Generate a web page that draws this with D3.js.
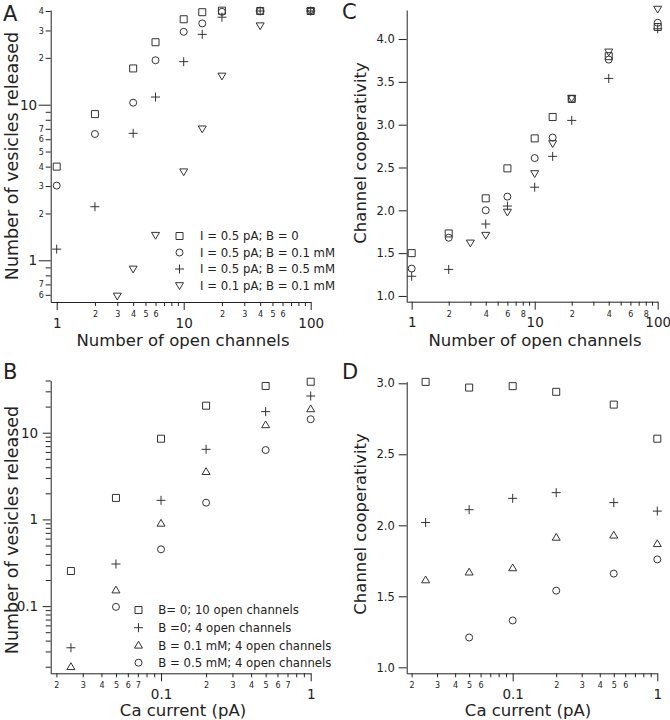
<!DOCTYPE html>
<html><head><meta charset="utf-8">
<script src="https://cdn.jsdelivr.net/npm/d3@7"></script>
<style>body{margin:0;background:#fff}</style>
</head><body>
<svg id="chart" width="670" height="720"></svg>
<script>
// ---------- data ----------
// Panel A / C : x = number of open channels
const channels = [1, 2, 4, 6, 10, 14, 20, 40, 100];
const channelsTri = [3, 4, 6, 10, 14, 20, 40, 100];
const vesA_sq   = [4.0, 8.7, 17.1, 25.2, 35.4, 39.3, 40.2, 40, 40];
const vesA_circ = [3.02, 6.48, 10.3, 19.3, 29.4, 33.3, 39.5, 40, 40];
const vesA_plus = [1.18, 2.21, 6.55, 11.2, 18.9, 28.3, 36.5, 40, 40];
const vesA_tri  = [0.59, 0.88, 1.45, 3.71, 7.0, 15.3, 32.2, 40];
const coopC_sq   = [1.50, 1.73, 2.14, 2.49, 2.84, 3.09, 3.30, 3.80, 4.14];
const coopC_circ = [1.32, 1.68, 2.00, 2.16, 2.61, 2.85, 3.30, 3.76, 4.19];
const coopC_plus = [1.23, 1.31, 1.84, 2.05, 2.27, 2.63, 3.05, 3.54, 4.12];
const coopC_tri  = [1.62, 1.71, 1.98, 2.43, 2.78, 3.31, 3.85, 4.35];
const legendAC = ["I = 0.5 pA; B = 0", "I = 0.5 pA; B = 0.1 mM", "I = 0.5 pA; B = 0.5 mM", "I = 0.1 pA; B = 0.1 mM"];

// Panel B / D : x = Ca current (pA)
const currents = [0.025, 0.05, 0.1, 0.2, 0.5, 1];
const currentsCirc = [0.05, 0.1, 0.2, 0.5, 1];
const vesB_sq   = [0.254, 1.77, 8.53, 20.5, 34.6, 38.7];
const vesB_plus = [0.0331, 0.306, 1.66, 6.43, 17.5, 26.5];
const vesB_tri  = [0.020, 0.153, 0.90, 3.55, 12.3, 18.8];
const vesB_circ = [0.098, 0.452, 1.56, 6.31, 14.3];
const coopD_sq   = [3.01, 2.97, 2.98, 2.94, 2.85, 2.61];
const coopD_plus = [2.02, 2.11, 2.19, 2.23, 2.16, 2.10];
const coopD_tri  = [1.615, 1.67, 1.70, 1.915, 1.93, 1.87];
const coopD_circ = [1.21, 1.33, 1.54, 1.66, 1.76];
const legendBD = ["B= 0; 10 open channels", "B =0; 4 open channels", "B = 0.1 mM; 4 open channels", "B = 0.5 mM; 4 open channels"];

// tick values
const logMajorsChan = [1, 10, 100];
const logMinorsChan = [2,3,4,5,6,7,8,9,20,30,40,50,60,70,80,90];
const labeledMinorsA = [2,3,4,5,6,20,30,40,50,60];
const labeledMinorsC = [2,4,6,8,20,40,60,80];
const yMajorsA = [1, 10];
const yMinorsA = [0.6,0.7,0.8,0.9,2,3,4,5,6,7,8,9,20,30,40];
const yLabeledMinorsA = [0.6,0.7,2,3,4,5,6,7,20,30,40];
const coopTicksC = [1.0, 1.5, 2.0, 2.5, 3.0, 3.5, 4.0];
const currMajors = [0.1, 1];
const currMinors = [0.02,0.03,0.04,0.05,0.06,0.07,0.08,0.09,0.2,0.3,0.4,0.5,0.6,0.7,0.8,0.9];
const labeledCurrB = [0.02,0.03,0.04,0.05,0.06,0.07,0.2,0.3,0.4,0.5,0.6,0.7];
const labeledCurrD = [0.02,0.03,0.04,0.05,0.06,0.2,0.3,0.4,0.5,0.6];
const yMajorsB = [0.1, 1, 10];
const yMinorsB = [0.02,0.03,0.04,0.05,0.06,0.07,0.08,0.09,0.2,0.3,0.4,0.5,0.6,0.7,0.8,0.9,2,3,4,5,6,7,8,9,20,30,40];
const coopTicksD = [1.0, 1.5, 2.0, 2.5, 3.0];

// ---------- drawing ----------
const FONT = '"DejaVu Sans", Verdana, sans-serif';
const INK = '#222';
const MARK = '#333';
const svg = d3.select('#chart');
svg.append('rect').attr('width', 670).attr('height', 720).attr('fill', '#fff');

const symTypes = {
  square: {draw(c){ c.rect(-3.5, -3.5, 7, 7); }},
  circle: {draw(c){ c.moveTo(3.5, 0); c.arc(0, 0, 3.5, 0, 2*Math.PI); }},
  plus:   {draw(c){ c.moveTo(-4.5, 0); c.lineTo(4.5, 0); c.moveTo(0, -4.5); c.lineTo(0, 4.5); }},
  triDown:{draw(c){ c.moveTo(-4, -2.8); c.lineTo(4, -2.8); c.lineTo(0, 4); c.closePath(); }},
  triUp:  {draw(c){ c.moveTo(-4, 2.8); c.lineTo(4, 2.8); c.lineTo(0, -4); c.closePath(); }}
};
const symPath = t => d3.symbol().type(symTypes[t])();

const minorFmt = labeled => d => {
  if (!labeled.some(v => Math.abs(v - d) < 1e-9)) return "";
  const e = Math.floor(Math.log10(d) + 1e-9);
  return String(Math.round(d / Math.pow(10, e)));
};

function styleAxis(g, size) {
  g.attr('font-family', FONT).attr('font-size', size);
  g.selectAll('text').attr('fill', INK);
  g.selectAll('line').attr('stroke', INK);
  g.selectAll('path.domain').attr('stroke', INK);
}

function xAxis(g, scale, y, majors, majorFmt, minors, minorLabels, majorFont) {
  const gMin = g.append('g').attr('transform', `translate(0,${y})`)
    .call(d3.axisBottom(scale).tickValues(minors).tickSize(4).tickSizeOuter(0).tickPadding(5.5).tickFormat(minorFmt(minorLabels)));
  gMin.select('path.domain').remove();
  styleAxis(gMin, 8);
  const gMaj = g.append('g').attr('transform', `translate(0,${y})`)
    .call(d3.axisBottom(scale).tickValues(majors).tickSize(8).tickSizeOuter(0).tickPadding(8).tickFormat(majorFmt));
  styleAxis(gMaj, majorFont);
}

function yLogAxis(g, scale, x, majors, majorFmt, minors, minorLabels, majorSize, majorPad) {
  const gMin = g.append('g').attr('transform', `translate(${x},0)`)
    .call(d3.axisLeft(scale).tickValues(minors).tickSize(5).tickSizeOuter(0).tickPadding(1.8).tickFormat(minorFmt(minorLabels)));
  gMin.select('path.domain').remove();
  styleAxis(gMin, 8);
  const gMaj = g.append('g').attr('transform', `translate(${x},0)`)
    .call(d3.axisLeft(scale).tickValues(majors).tickSize(majorSize).tickSizeOuter(0).tickPadding(majorPad).tickFormat(majorFmt));
  styleAxis(gMaj, 13.5);
}

function yLinAxis(g, scale, x, ticks) {
  const gA = g.append('g').attr('transform', `translate(${x},0)`)
    .call(d3.axisLeft(scale).tickValues(ticks).tickSize(8).tickSizeOuter(0).tickPadding(4).tickFormat(d3.format('.1f')));
  styleAxis(gA, 11.5);
}

function series(g, xs, ys, xScale, yScale, type) {
  g.append('g').selectAll('path').data(xs.map((x, i) => [x, ys[i]])).join('path')
    .attr('transform', d => `translate(${xScale(d[0])},${yScale(d[1])})`)
    .attr('d', symPath(type))
    .attr('fill', 'none').attr('stroke', MARK).attr('stroke-width', 1);
}

function legend(g, x, xt, ys, labels, types) {
  labels.forEach((lab, i) => {
    g.append('path').attr('transform', `translate(${x},${ys[i]})`).attr('d', symPath(types[i]))
      .attr('fill', 'none').attr('stroke', MARK).attr('stroke-width', 1);
    g.append('text').attr('x', xt).attr('y', ys[i]).attr('dy', '0.36em')
      .attr('font-family', FONT).attr('font-size', 11.7).attr('fill', INK).text(lab);
  });
}

function label(txt, x, y, size, rot, anchor) {
  const t = svg.append('text').attr('font-family', FONT).attr('font-size', size).attr('fill', INK)
    .attr('text-anchor', anchor || 'middle').text(txt);
  if (rot) t.attr('transform', `translate(${x},${y}) rotate(-90)`).attr('dy', '0.35em');
  else t.attr('x', x).attr('y', y);
  return t;
}

const majorLogFmt = d => String(d);

// ---- Panel A ----
{
  const g = svg.append('g');
  const x = d3.scaleLog().domain([0.897, 100]).range([50.7, 310.7]);
  const y = d3.scaleLog().domain([0.5395, 40.6]).range([302, 10]);
  xAxis(g, x, 302, logMajorsChan, majorLogFmt, logMinorsChan, labeledMinorsA, 13.5);
  yLogAxis(g, y, 50.7, yMajorsA, majorLogFmt, yMinorsA, yLabeledMinorsA, 12, 1.5);
  series(g, channels, vesA_sq, x, y, 'square');
  series(g, channels, vesA_circ, x, y, 'circle');
  series(g, channels, vesA_plus, x, y, 'plus');
  series(g, channelsTri, vesA_tri, x, y, 'triDown');
  legend(g, 179.5, 200, [236, 252.5, 269, 285.5], legendAC, ['square','circle','plus','triDown']);
  label('Number of open channels', 183, 345.5, 16.5);
  label('Number of vesicles released', 12, 156, 17.5, true);
  label('A', 3, 21, 21, false, 'start');
}

// ---- Panel C ----
{
  const g = svg.append('g');
  const x = d3.scaleLog().domain([0.911, 100]).range([406.7, 657.7]);
  const y = d3.scaleLinear().domain([0.933, 4.339]).range([301.7, 10]);
  xAxis(g, x, 301.7, logMajorsChan, majorLogFmt, logMinorsChan, labeledMinorsC, 13.5);
  yLinAxis(g, y, 406.7, coopTicksC);
  series(g, channels, coopC_sq, x, y, 'square');
  series(g, channels, coopC_circ, x, y, 'circle');
  series(g, channels, coopC_plus, x, y, 'plus');
  series(g, channelsTri, coopC_tri, x, y, 'triDown');
  label('Number of open channels', 535, 345.5, 16.5);
  label('Channel cooperativity', 360, 153, 16.5, true);
  label('C', 342, 19, 21, false, 'start');
}

// ---- Panel B ----
{
  const g = svg.append('g');
  const x = d3.scaleLog().domain([0.01832, 1]).range([50.7, 310.7]);
  const y = d3.scaleLog().domain([0.0168, 40]).range([673.3, 380.5]);
  xAxis(g, x, 673.3, currMajors, d => String(d), currMinors, labeledCurrB, 13.5);
  yLogAxis(g, y, 50.7, yMajorsB, d => String(d), yMinorsB, [], 8, 4.5);
  series(g, currents, vesB_sq, x, y, 'square');
  series(g, currents, vesB_plus, x, y, 'plus');
  series(g, currents, vesB_tri, x, y, 'triUp');
  series(g, currentsCirc, vesB_circ, x, y, 'circle');
  legend(g, 138.5, 158.3, [610, 627.7, 645.3, 662.7], legendBD, ['square','plus','triUp','circle']);
  label('Ca current (pA)', 183, 716, 16.5);
  label('Number of vesicles released', 12, 530, 17.5, true);
  label('B', 3, 379, 21, false, 'start');
}

// ---- Panel D ----
{
  const g = svg.append('g');
  const x = d3.scaleLog().domain([0.0185, 1]).range([406.7, 657.3]);
  const y = d3.scaleLinear().domain([0.958, 3.012]).range([673.3, 381.6]);
  xAxis(g, x, 673.3, currMajors, d => String(d), currMinors, labeledCurrD, 13.5);
  yLinAxis(g, y, 406.7, coopTicksD);
  series(g, currents, coopD_sq, x, y, 'square');
  series(g, currents, coopD_plus, x, y, 'plus');
  series(g, currents, coopD_tri, x, y, 'triUp');
  series(g, currentsCirc, coopD_circ, x, y, 'circle');
  label('Ca current (pA)', 528, 716, 16.5);
  label('Channel cooperativity', 360, 524, 16.5, true);
  label('D', 342, 379, 21, false, 'start');
}
</script>
</body></html>
